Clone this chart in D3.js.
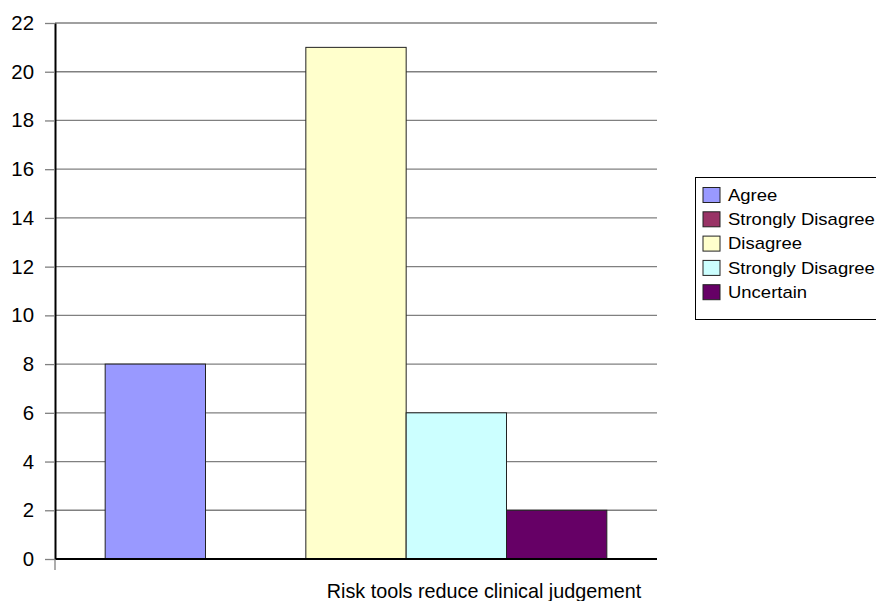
<!DOCTYPE html>
<html>
<head>
<meta charset="utf-8">
<script src="https://cdn.jsdelivr.net/npm/d3@7"></script>
<style>
  html, body { margin: 0; padding: 0; background: #fff; }
  svg { display: block; }
  text { font-family: "Liberation Sans", Arial, sans-serif; fill: #000; }
</style>
</head>
<body>
<svg id="chart" width="876" height="601"></svg>
<script>
// Survey responses for a single statement
const category = "Risk tools reduce clinical judgement";
const seriesNames = ["Agree", "Strongly Disagree", "Disagree", "Strongly Disagree", "Uncertain"];
const seriesValues = [8, 0, 21, 6, 2];
const seriesColors = ["#9999FF", "#993366", "#FFFFCC", "#CCFFFF", "#660066"];
const yTicks = [0, 2, 4, 6, 8, 10, 12, 14, 16, 18, 20, 22];

const svg = d3.select("#chart");
const plot = { left: 55, right: 657, top: 23, bottom: 559 };

const y = d3.scaleLinear().domain([0, 22]).range([plot.bottom, plot.top]);
const x = d3.scaleBand()
  .domain(d3.range(seriesValues.length))
  .range([plot.left, plot.right])
  .paddingInner(0)
  .paddingOuter(0.5);

// Horizontal gridlines
svg.append("g")
  .selectAll("line")
  .data(yTicks.filter(d => d > 0))
  .join("line")
  .attr("x1", plot.left).attr("x2", plot.right)
  .attr("y1", d => y(d)).attr("y2", d => y(d))
  .attr("stroke", "#808080").attr("stroke-width", 1.3);

// Bars
svg.append("g")
  .selectAll("rect")
  .data(seriesValues.map((v, i) => ({ v, i })))
  .join("rect")
  .attr("x", d => x(d.i))
  .attr("width", x.bandwidth())
  .attr("y", d => y(d.v))
  .attr("height", d => y(0) - y(d.v))
  .attr("fill", d => seriesColors[d.i])
  .attr("stroke", "#222")
  .attr("stroke-width", d => d.v > 0 ? 1 : 0);

// Y axis
const yAxis = svg.append("g")
  .attr("transform", `translate(${plot.left},0)`)
  .call(d3.axisLeft(y).tickValues(yTicks).tickSize(10).tickPadding(11).tickSizeOuter(0));
yAxis.select(".domain").attr("stroke", "#000").attr("stroke-width", 2);
yAxis.selectAll(".tick line").attr("stroke", "#808080").attr("stroke-width", 1.3);
yAxis.selectAll(".tick text")
  .style("font-family", "'Liberation Sans', Arial, sans-serif")
  .style("font-size", "20.4px")
  .attr("fill", "#000");

// X axis baseline with the left category tick
svg.append("line")
  .attr("x1", plot.left).attr("x2", plot.right)
  .attr("y1", y(0)).attr("y2", y(0))
  .attr("stroke", "#000").attr("stroke-width", 2);
svg.append("line")
  .attr("x1", plot.left).attr("x2", plot.left)
  .attr("y1", y(0)).attr("y2", y(0) + 11)
  .attr("stroke", "#808080").attr("stroke-width", 1.3);

// Category label
svg.append("text")
  .attr("x", 484).attr("y", 598)
  .attr("text-anchor", "middle")
  .style("font-size", "19.8px")
  .text(category);

// Legend
const legend = svg.append("g").attr("transform", "translate(695,177)");
legend.append("rect")
  .attr("x", 0.5).attr("y", 0.5)
  .attr("width", 200).attr("height", 142)
  .attr("fill", "#fff").attr("stroke", "#000").attr("stroke-width", 1);
const rows = legend.selectAll("g.row")
  .data(seriesNames.map((n, i) => ({ n, i })))
  .join("g")
  .attr("class", "row")
  .attr("transform", d => `translate(0,${18 + d.i * 24.3})`);
rows.append("rect")
  .attr("x", 8).attr("y", -7.5)
  .attr("width", 17).attr("height", 15)
  .attr("fill", d => seriesColors[d.i])
  .attr("stroke", "#222").attr("stroke-width", 1);
rows.append("text")
  .attr("transform", "translate(33,0) scale(1.17,1)")
  .attr("dy", "0.36em")
  .style("font-size", "15.8px")
  .text(d => d.n);
</script>
</body>
</html>
